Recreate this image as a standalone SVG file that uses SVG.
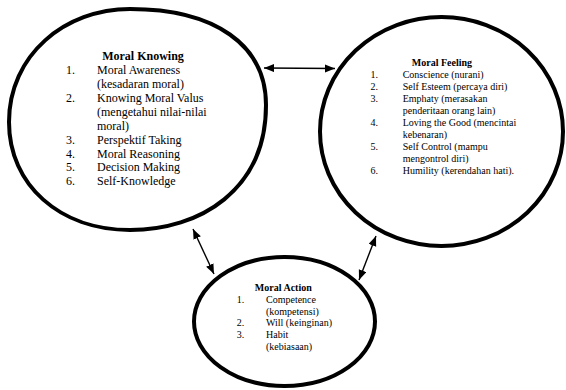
<svg xmlns="http://www.w3.org/2000/svg" width="566" height="390" viewBox="0 0 566 390">
<style>
.node{fill:#fff;stroke:#000;stroke-width:4}
.t{font-family:"Liberation Serif","Times New Roman",serif;fill:#000}
.h12{font-size:12px;font-weight:bold;text-anchor:middle}
.b12{font-size:12px}
.h10{font-size:10px;font-weight:bold;text-anchor:middle}
.b10{font-size:10px}
.conn{stroke:#000;stroke-width:1.4;fill:none;marker-start:url(#ah);marker-end:url(#ah)}
</style>
<defs>
<marker id="ah" markerUnits="userSpaceOnUse" markerWidth="11" markerHeight="9" refX="10" refY="4" orient="auto-start-reverse">
<path d="M0,0 L10,4 L0,8 Z" fill="#000"/>
</marker>
</defs>
<rect width="566" height="390" fill="#fff"/>
<g id="moral-knowing">
<path class="node" d="M9,122 C9,55 65,9 130,9 C215,9 266,45 266,105 C266,190 200,230 130,230 C60,230 9,185 9,122 Z"/>
<text class="t h12" x="143" y="60">Moral Knowing</text>
<g class="t b12">
<text x="66" y="74">1.</text><text x="97" y="74">Moral Awareness</text>
<text x="97" y="88">(kesadaran moral)</text>
<text x="66" y="102">2.</text><text x="97" y="102">Knowing Moral Valus</text>
<text x="97" y="116">(mengetahui nilai-nilai</text>
<text x="97" y="129.5">moral)</text>
<text x="66" y="143.5">3.</text><text x="97" y="143.5">Perspektif Taking</text>
<text x="66" y="157.5">4.</text><text x="97" y="157.5">Moral Reasoning</text>
<text x="66" y="171">5.</text><text x="97" y="171">Decision Making</text>
<text x="66" y="185">6.</text><text x="97" y="185">Self-Knowledge</text>
</g>
</g>
<g id="moral-feeling">
<ellipse class="node" cx="441.5" cy="131.5" rx="121.5" ry="114.5"/>
<text class="t h10" x="442" y="65.5">Moral Feeling</text>
<g class="t b10">
<text x="370.5" y="77.5">1.</text><text x="402.7" y="77.5">Conscience (nurani)</text>
<text x="370.5" y="89.5">2.</text><text x="402.7" y="89.5">Self Esteem (percaya diri)</text>
<text x="370.5" y="101.5">3.</text><text x="402.7" y="101.5">Emphaty (merasakan</text>
<text x="402.7" y="113.5">penderitaan orang lain)</text>
<text x="370.5" y="125.5">4.</text><text x="402.7" y="125.5">Loving the Good (mencintai</text>
<text x="402.7" y="137.5">kebenaran)</text>
<text x="370.5" y="149.5">5.</text><text x="402.7" y="149.5">Self Control (mampu</text>
<text x="402.7" y="161.5">mengontrol diri)</text>
<text x="370.5" y="173.5">6.</text><text x="402.7" y="173.5">Humility (kerendahan hati).</text>
</g>
</g>
<g id="moral-action">
<ellipse class="node" cx="284.5" cy="321.5" rx="90.5" ry="64.5"/>
<text class="t h10" x="283.3" y="291">Moral Action</text>
<g class="t b10">
<text x="236.7" y="302.8">1.</text><text x="266" y="302.8">Competence</text>
<text x="266" y="314.6">(kompetensi)</text>
<text x="236.7" y="326.4">2.</text><text x="266" y="326.4">Will (keinginan)</text>
<text x="236.7" y="338.2">3.</text><text x="266" y="338.2">Habit</text>
<text x="266" y="350">(kebiasaan)</text>
</g>
</g>
<g id="connectors">
<line class="conn" x1="264" y1="68" x2="335" y2="68.5"/>
<line class="conn" x1="193" y1="229" x2="214" y2="274"/>
<line class="conn" x1="376" y1="236" x2="359" y2="280"/>
</g>
</svg>
